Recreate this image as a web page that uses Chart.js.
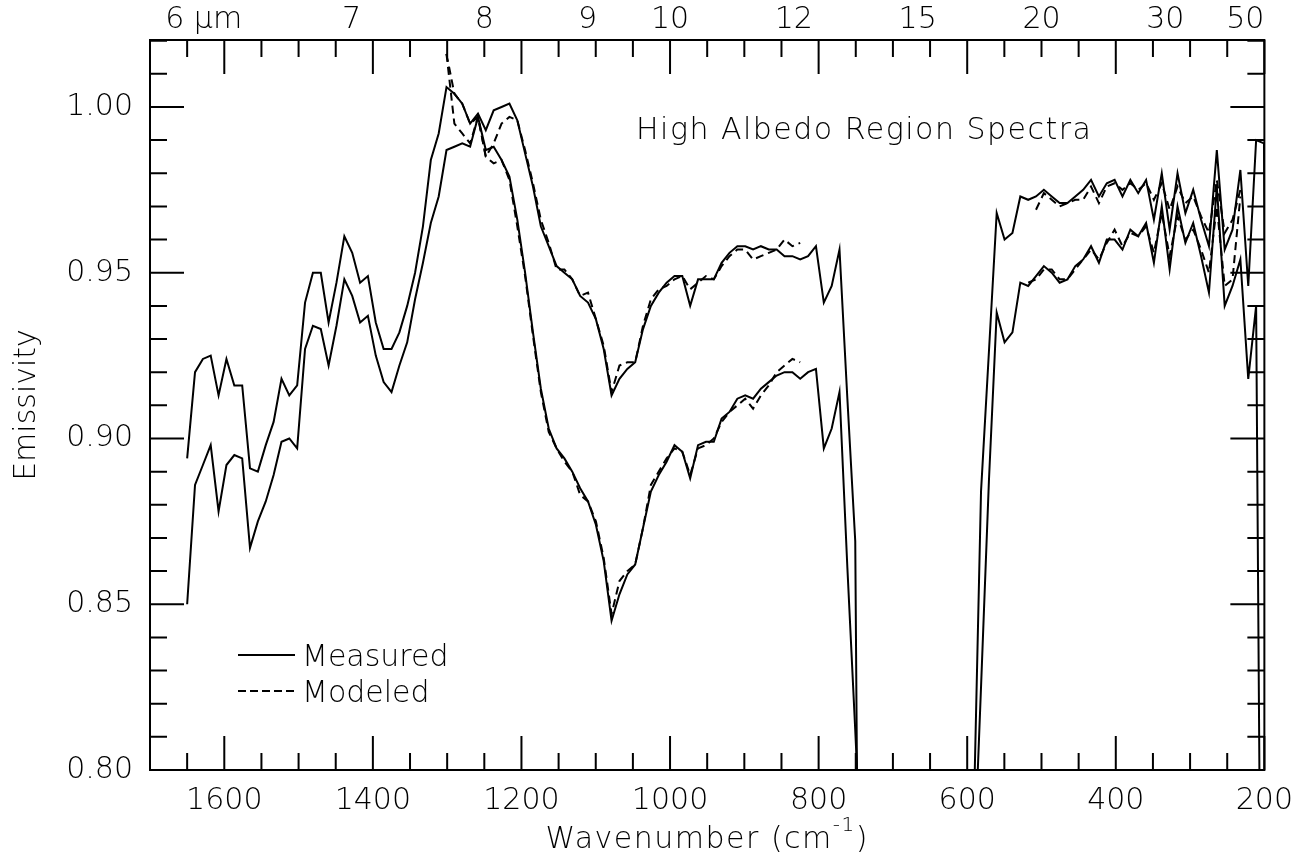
<!DOCTYPE html>
<html><head><meta charset="utf-8">
<script src="https://cdn.jsdelivr.net/npm/chart.js@4.4.1/dist/chart.umd.min.js"></script>
<style>html,body{margin:0;padding:0;background:#fff}#wrap{width:1306px;height:853px}</style>
</head><body><div id="wrap"><canvas id="c" width="1306" height="853"></canvas></div>
<script>
const _ = null;
const wavenumbers = [1650.0,1639.4,1628.8,1618.3,1607.7,1597.1,1586.5,1575.9,1565.4,1554.8,
 1544.2,1533.6,1523.0,1512.5,1501.9,1491.3,1480.7,1470.1,1459.6,1449.0,
 1438.4,1427.8,1417.2,1406.7,1396.1,1385.5,1374.9,1364.3,1353.8,1343.2,
 1332.6,1322.0,1311.4,1300.9,1290.3,1279.7,1269.1,1258.5,1248.0,1237.4,
 1226.8,1216.2,1205.6,1195.1,1184.5,1173.9,1163.3,1152.7,1142.2,1131.6,
 1121.0,1110.4,1099.8,1089.3,1078.7,1068.1,1057.5,1046.9,1036.4,1025.8,
 1015.2,1004.6,994.0,983.5,972.9,962.3,951.7,941.1,930.6,920.0,
 909.4,898.8,888.2,877.7,867.1,856.5,845.9,835.3,824.8,814.2,
 803.6,793.0,782.4,771.9,761.3,750.7,740.1,
 592.0,581.4,570.8,560.3,549.7,539.1,528.5,517.9,507.4,496.8,
 486.2,475.6,465.0,454.5,443.9,433.3,422.7,412.1,401.6,391.0,
 380.4,369.8,359.2,348.7,338.1,327.5,316.9,306.3,295.8,285.2,
 274.6,264.0,253.4,242.9,232.3,221.7,211.1,200.5,189.9];

const measuredHigh = [0.894,0.920,0.924,0.925,0.913,0.924,0.916,0.916,0.891,0.890,
 0.898,0.905,0.918,0.913,0.916,0.941,0.950,0.950,0.935,0.947,
 0.961,0.956,0.947,0.949,0.935,0.927,0.927,0.932,0.940,0.950,
 0.964,0.984,0.992,1.006,1.004,1.001,0.995,0.998,0.993,0.999,
 1.000,1.001,0.996,0.986,0.976,0.964,0.958,0.952,0.950,0.948,
 0.943,0.941,0.936,0.927,0.913,0.918,0.921,0.923,0.933,0.940,
 0.944,0.947,0.949,0.949,0.940,0.948,0.948,0.948,0.953,0.956,
 0.958,0.958,0.957,0.958,0.957,0.957,0.955,0.955,0.954,0.955,
 0.958,0.941,0.946,0.957,0.912,0.869,0.550,
 0.778,0.884,0.926,0.968,0.960,0.962,0.973,0.972,0.973,0.975,
 0.973,0.971,0.971,0.973,0.975,0.978,0.973,0.977,0.978,0.973,
 0.978,0.974,0.978,0.966,0.980,0.963,0.980,0.968,0.975,0.966,
 0.958,0.987,0.957,0.963,0.981,0.946,0.990,0.989,0.620];

const measuredLow = [0.850,0.886,0.892,0.898,0.878,0.892,0.895,0.894,0.867,0.875,
 0.881,0.889,0.899,0.900,0.897,0.927,0.934,0.933,0.922,0.934,
 0.948,0.943,0.935,0.937,0.925,0.917,0.914,0.922,0.929,0.942,
 0.953,0.965,0.973,0.987,0.988,0.989,0.988,0.997,0.987,0.988,
 0.984,0.979,0.966,0.950,0.932,0.915,0.903,0.897,0.894,0.890,
 0.885,0.881,0.874,0.863,0.845,0.853,0.859,0.862,0.873,0.884,
 0.889,0.893,0.898,0.896,0.888,0.898,0.899,0.899,0.906,0.908,
 0.912,0.913,0.912,0.915,0.917,0.919,0.920,0.920,0.918,0.920,
 0.921,0.897,0.903,0.914,0.861,0.812,0.760,
 0.764,0.825,0.887,0.938,0.929,0.932,0.947,0.946,0.949,0.952,
 0.950,0.947,0.948,0.952,0.954,0.958,0.953,0.960,0.960,0.957,
 0.963,0.961,0.965,0.953,0.970,0.951,0.970,0.959,0.965,0.955,
 0.944,0.976,0.940,0.946,0.954,0.918,0.940,0.605,_];

const modeledHigh = [_,_,_,_,_,_,_,_,_,_,
 _,_,_,_,_,_,_,_,_,_,
 _,_,_,_,_,_,_,_,_,_,
 _,_,_,1.016,1.004,1.001,0.995,0.997,0.985,0.989,
 0.995,0.997,0.996,0.987,0.977,0.966,0.959,0.951,0.951,0.948,
 0.943,0.944,0.936,0.928,0.914,0.922,0.923,0.923,0.934,0.942,
 0.945,0.946,0.948,0.949,0.945,0.947,0.949,0.948,0.952,0.955,
 0.957,0.957,0.954,0.955,0.956,0.957,0.960,0.958,0.959,_,
 _,_,_,_,_,_,_,
 _,_,_,_,_,_,_,_,0.969,0.974,
 0.972,0.970,0.971,0.972,0.972,0.976,0.971,0.976,0.977,0.975,
 0.977,0.975,0.977,0.972,0.977,0.969,0.976,0.971,0.973,0.967,
 0.962,0.978,0.962,0.966,0.975,_,_,_,_];

const modeledLow = [_,_,_,_,_,_,_,_,_,_,
 _,_,_,_,_,_,_,_,_,_,
 _,_,_,_,_,_,_,_,_,_,
 _,_,_,1.016,0.995,0.992,0.989,0.997,0.985,0.983,
 0.984,0.978,0.964,0.949,0.931,0.914,0.902,0.897,0.893,0.890,
 0.883,0.881,0.875,0.864,0.847,0.857,0.860,0.862,0.873,0.886,
 0.890,0.894,0.897,0.896,0.889,0.897,0.898,0.900,0.905,0.908,
 0.910,0.912,0.909,0.913,0.916,0.920,0.922,0.924,0.923,_,
 _,_,_,_,_,_,_,
 _,_,_,_,_,_,_,0.947,0.948,0.951,
 0.951,0.948,0.948,0.951,0.954,0.957,0.954,0.959,0.963,0.958,
 0.962,0.961,0.964,0.956,0.968,0.955,0.967,0.960,0.963,0.957,
 0.950,0.970,0.946,0.948,0.973,_,_,_,_];

const xTickValues = [1600,1400,1200,1000,800,600,400,200];
const yTickValues = [0.80,0.85,0.90,0.95,1.00];
const topTickMicrons = [6,7,8,9,10,12,15,20,30,50];
const topTickLabels = ['6 μm','7','8','9','10','12','15','20','30','50'];
const legendLabels = ['Measured','Modeled'];
const chartTitle = 'High Albedo Region Spectra';

const FONT = 'DejaVu Sans';
const toPts = arr => wavenumbers.map((w,i)=>({x:w,y:arr[i]}));

const decor = {
  id:'decor',
  afterDraw(chart){
    const {ctx, chartArea:a, scales:{x,y}} = chart;
    ctx.save();
    ctx.strokeStyle='#000'; ctx.fillStyle='#000'; ctx.lineWidth=2;
    ctx.strokeRect(a.left, a.top, a.right-a.left, a.bottom-a.top);
    ctx.beginPath();
    for (let w=200; w<=1700; w+=50){
      const px=x.getPixelForValue(w); const len=(w%200===0)?34:17;
      ctx.moveTo(px,a.bottom); ctx.lineTo(px,a.bottom-len);
      ctx.moveTo(px,a.top); ctx.lineTo(px,a.top+len);
    }
    for (let i=0;i<=22;i++){
      const py=y.getPixelForValue(0.80+i*0.01); const len=(i%5===0)?34:17;
      ctx.moveTo(a.left,py); ctx.lineTo(a.left+len,py);
      ctx.moveTo(a.right,py); ctx.lineTo(a.right-len,py);
    }
    ctx.stroke();
    ctx.font = '200 30px "'+FONT+'"';
    ctx.textBaseline='alphabetic';
    topTickMicrons.forEach((m,i)=>{
      const px = x.getPixelForValue(10000/m);
      const lbl = topTickLabels[i];
      if (i===0){ ctx.textAlign='left'; const w0=ctx.measureText('6').width; ctx.fillText(lbl, px-w0/2, 28); }
      else if (i===topTickMicrons.length-1){ ctx.textAlign='right'; ctx.fillText(lbl, px, 28); }
      else { ctx.textAlign='center'; ctx.fillText(lbl, px, 28); }
    });
    ctx.textAlign='left';
    ctx.letterSpacing='1.5px';
    ctx.fillText(chartTitle, 636, 139);
    const t1='Wavenumber (cm', sup='-1', t2=')';
    ctx.font = '200 30px "'+FONT+'"';
    const w1=ctx.measureText(t1).width, w3=ctx.measureText(t2).width;
    ctx.font = '200 20px "'+FONT+'"';
    const w2=ctx.measureText(sup).width;
    const cx=(a.left+a.right)/2; let sx=cx-(w1+w2+w3)/2;
    ctx.font = '200 30px "'+FONT+'"';
    ctx.fillText(t1, sx, 848);
    ctx.font = '200 20px "'+FONT+'"';
    ctx.fillText(sup, sx+w1, 831);
    ctx.font = '200 30px "'+FONT+'"';
    ctx.fillText(t2, sx+w1+w2, 848);
    ctx.letterSpacing='0px';
    ctx.lineWidth=2;
    ctx.beginPath(); ctx.setLineDash([]); ctx.moveTo(238,655); ctx.lineTo(295,655); ctx.stroke();
    ctx.beginPath(); ctx.setLineDash([8,4]); ctx.moveTo(238,691); ctx.lineTo(295,691); ctx.stroke();
    ctx.setLineDash([]);
    ctx.textAlign='left';
    ctx.fillText(legendLabels[0], 302, 666);
    ctx.fillText(legendLabels[1], 302, 702);
    ctx.restore();
  }
};

const base = {borderColor:'#000', borderWidth:2, pointRadius:0, tension:0, spanGaps:false, fill:false};
new Chart(document.getElementById('c'), {
  type:'line',
  data:{datasets:[
    Object.assign({label:legendLabels[0]+' high', data:toPts(measuredHigh)}, base),
    Object.assign({label:legendLabels[0]+' low', data:toPts(measuredLow)}, base),
    Object.assign({label:legendLabels[1]+' high', data:toPts(modeledHigh), borderDash:[8,5]}, base),
    Object.assign({label:legendLabels[1]+' low', data:toPts(modeledLow), borderDash:[8,5]}, base)
  ]},
  options:{
    responsive:false, animation:false, devicePixelRatio:1,
    layout:{padding:{left:0,right:40,top:40,bottom:0}},
    plugins:{legend:{display:false}, tooltip:{enabled:false}},
    scales:{
      x:{type:'linear', reverse:true, min:200, max:1700,
        afterBuildTicks:s=>{s.ticks=xTickValues.map(v=>({value:v}));},
        afterFit:s=>{s.height=83;},
        grid:{display:false, drawTicks:false}, border:{display:false},
        ticks:{color:'#000', padding:13, maxRotation:0, autoSkip:false, font:{family:FONT, size:30, weight:200}, callback:v=>String(v)}
      },
      y:{type:'linear', min:0.80, max:1.0202,
        afterBuildTicks:s=>{s.ticks=yTickValues.map(v=>({value:v}));},
        afterFit:s=>{s.width=150;},
        grid:{display:false, drawTicks:false}, border:{display:false},
        ticks:{color:'#000', padding:17, font:{family:FONT, size:30, weight:200}, callback:v=>v.toFixed(2)},
        title:{display:true, text:'Emissivity', color:'#000', padding:{top:9,bottom:0}, font:{family:FONT, size:30, weight:200}}
      }
    }
  },
  plugins:[decor]
});
</script></body></html>
